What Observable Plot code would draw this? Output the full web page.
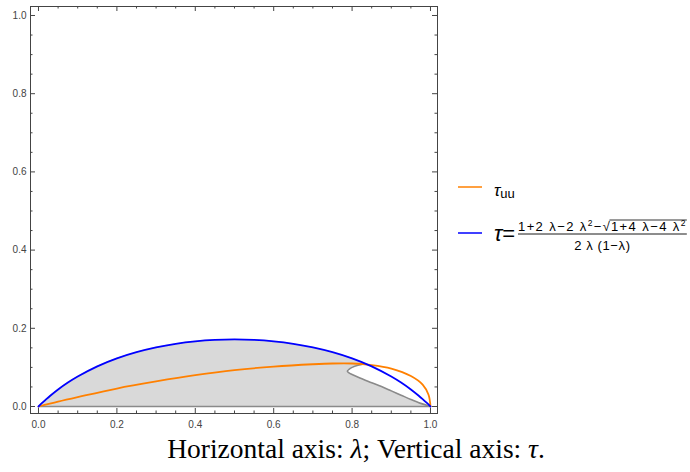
<!DOCTYPE html>
<html><head><meta charset="utf-8">
<script src="https://cdn.jsdelivr.net/npm/d3@7"></script>
<script src="https://cdn.jsdelivr.net/npm/@observablehq/plot@0.6"></script>
<style>
body{margin:0;background:#fff;}
#wrap{position:relative;width:690px;height:472px;overflow:hidden;}
#legend{position:absolute;left:0;top:0;}
#caption{position:absolute;left:0;top:433px;width:712px;text-align:center;font-family:"Liberation Serif","Times New Roman",serif;font-size:27.5px;line-height:31px;color:#000;white-space:nowrap;}
</style></head><body>
<div id="wrap">
<div id="chart"></div>
<svg id="legend" width="690" height="472" font-family="Liberation Sans, Arial, sans-serif">
  <line x1="458" x2="482" y1="187" y2="187" stroke="#ff8000" stroke-width="1.5"/>
  <text x="494" y="196" font-size="17" fill="#000"><tspan font-style="italic">τ</tspan><tspan font-size="13" dy="2">uu</tspan></text>
  <line x1="458" x2="482" y1="233" y2="233" stroke="#0000ff" stroke-width="1.5"/>
  <text x="494" y="241" font-size="22" fill="#000"><tspan font-style="italic">τ</tspan><tspan>=</tspan></text>
  <text id="numA" x="518" y="231" font-size="13" fill="#000" letter-spacing="1.4">1+2 λ−2 λ<tspan font-size="8.5" dy="-5">2</tspan><tspan dy="5">−</tspan></text>
  <text id="sq" x="0" y="231" font-size="13" fill="#000">√</text>
  <text id="numB" x="0" y="231" font-size="13" fill="#000" letter-spacing="1.4">1+4 λ−4 λ<tspan font-size="8.5" dy="-5">2</tspan></text>
  <line id="over" x1="627" x2="688" y1="220" y2="220" stroke="#000" stroke-width="0.8"/>
  <line id="bar" x1="518" x2="688" y1="234" y2="234" stroke="#000" stroke-width="0.9"/>
  <text id="den" x="600" y="250" font-size="13" fill="#000" text-anchor="middle" letter-spacing="0.6">2 λ (1−λ)</text>
</svg>
<div id="caption">Horizontal axis: <i>λ</i>; Vertical axis: <i>τ</i>.</div>
</div>
<script>
// Blue boundary curve τ(λ)
const blueLam = [0,0.01,0.02,0.03,0.05,0.075,0.1,0.15,0.2,0.25,0.3,0.35,0.4,0.45,0.5,0.55,0.6,0.65,0.7,0.75,0.8,0.85,0.9,0.925,0.95,0.97,0.98,0.99,1];
const blueTau = [0,0.0097,0.0189,0.0275,0.0435,0.0612,0.0767,0.1027,0.1231,0.1390,0.1513,0.1604,0.1667,0.1704,0.1716,0.1704,0.1667,0.1604,0.1513,0.1390,0.1231,0.1027,0.0767,0.0612,0.0435,0.0275,0.0189,0.0097,0];
// Orange curve τ_uu
const orangeLam = [0,0.05,0.1,0.2,0.3,0.4,0.5,0.6,0.7,0.75,0.8,0.85,0.9,0.95,0.98,0.995,1];
const orangeTau = [0,0.0125,0.024,0.046,0.064,0.080,0.093,0.102,0.108,0.110,0.110,0.106,0.097,0.078,0.056,0.030,0];
// Gray region boundary (C-shaped)
const grayLam = [0.83,0.815,0.80,0.792,0.788,0.792,0.80,0.82,0.85,0.875,0.9,0.925,0.95,0.975,1];
const grayTau = [0.109,0.1055,0.100,0.095,0.090,0.086,0.082,0.073,0.061,0.051,0.040,0.029,0.018,0.008,0];
// White cut-out inside the gray region
const cutLam  = [0.788,0.792,0.80,0.81,0.82,0.83,0.837,0.85,0.875,0.9,0.925,0.95,0.975,1];
const cutLow  = [0.090,0.086,0.082,0.077,0.073,0.069,0.066,0.061,0.051,0.040,0.029,0.018,0.008,0];
const cutHigh = [0.090,0.095,0.100,0.104,0.107,0.109,0.108,0.1027,0.0905,0.0767,0.0612,0.0435,0.0233,0];
// Ticks
const majorTicks = [0,0.2,0.4,0.6,0.8,1.0];
const minorTicks = [0.05,0.1,0.15,0.25,0.3,0.35,0.45,0.5,0.55,0.65,0.7,0.75,0.85,0.9,0.95];

const zip = (xs, ys) => xs.map((x, i) => ({x, y: ys[i]}));
const blue = zip(blueLam, blueTau);
const orange = zip(orangeLam, orangeTau);
const gray = zip(grayLam, grayTau);
const cut = cutLam.map((x, i) => ({x, lo: cutLow[i], hi: cutHigh[i]}));

const H = 432, mT = 6, mB = 19, mL = 30, mR = 253;
const ph = H - mT - mB, pw = 690 - mL - mR;
const tc = "#444";

const chart = Plot.plot({
  width: 690, height: H,
  marginLeft: mL, marginRight: mR, marginTop: mT, marginBottom: mB,
  x: {domain: [-0.0204, 1.0179], axis: null},
  y: {domain: [-0.0179, 1.023], axis: null},
  style: {fontFamily: "Liberation Sans, Arial, sans-serif", fontSize: "10px", background: "white", color: tc},
  marks: [
    Plot.areaY(blue, {x: "x", y: "y", fill: "#d9d9d9", curve: "catmull-rom"}),
    Plot.areaY(cut, {x: "x", y1: "lo", y2: "hi", fill: "white", curve: "catmull-rom"}),
    Plot.ruleY([0], {x1: 0, x2: 1, stroke: "#8a8a8a", strokeWidth: 1.6}),
    Plot.line(gray, {x: "x", y: "y", stroke: "#8a8a8a", strokeWidth: 1.6, curve: "catmull-rom"}),
    Plot.line(orange, {x: "x", y: "y", stroke: "#ff8000", strokeWidth: 1.8, curve: "catmull-rom"}),
    Plot.line(blue, {x: "x", y: "y", stroke: "#0000ff", strokeWidth: 1.8, curve: "catmull-rom"}),
    Plot.frame({stroke: tc}),
    Plot.tickX(majorTicks, {x: d => d, insetTop: ph - 5, stroke: tc}),
    Plot.tickX(minorTicks, {x: d => d, insetTop: ph - 2.5, stroke: tc}),
    Plot.tickX(majorTicks, {x: d => d, insetBottom: ph - 5, stroke: tc}),
    Plot.tickX(minorTicks, {x: d => d, insetBottom: ph - 2.5, stroke: tc}),
    Plot.tickY(majorTicks, {y: d => d, insetRight: pw - 5, stroke: tc}),
    Plot.tickY(minorTicks, {y: d => d, insetRight: pw - 2.5, stroke: tc}),
    Plot.tickY(majorTicks, {y: d => d, insetLeft: pw - 5, stroke: tc}),
    Plot.tickY(minorTicks, {y: d => d, insetLeft: pw - 2.5, stroke: tc}),
    Plot.axisX({ticks: majorTicks, tickSize: 0, tickPadding: 7, tickFormat: d3.format(".1f"), fill: tc, label: null}),
    Plot.axisY({ticks: majorTicks, tickSize: 0, tickPadding: 4, tickFormat: d3.format(".1f"), fill: tc, label: null})
  ]
});
document.getElementById("chart").appendChild(chart);

// lay out the legend fraction pieces after measuring text
const numA = document.getElementById("numA");
const sq = document.getElementById("sq");
const numB = document.getElementById("numB");
const aEnd = 518 + numA.getComputedTextLength();
sq.setAttribute("x", aEnd);
const sqEnd = aEnd + sq.getComputedTextLength();
numB.setAttribute("x", sqEnd + 1);
const bEnd = sqEnd + 1 + numB.getComputedTextLength();
const over = document.getElementById("over");
over.setAttribute("x1", sqEnd - 0.5);
over.setAttribute("x2", bEnd);
const bar = document.getElementById("bar");
bar.setAttribute("x2", bEnd);
document.getElementById("den").setAttribute("x", (518 + bEnd) / 2);
</script>
</body></html>
